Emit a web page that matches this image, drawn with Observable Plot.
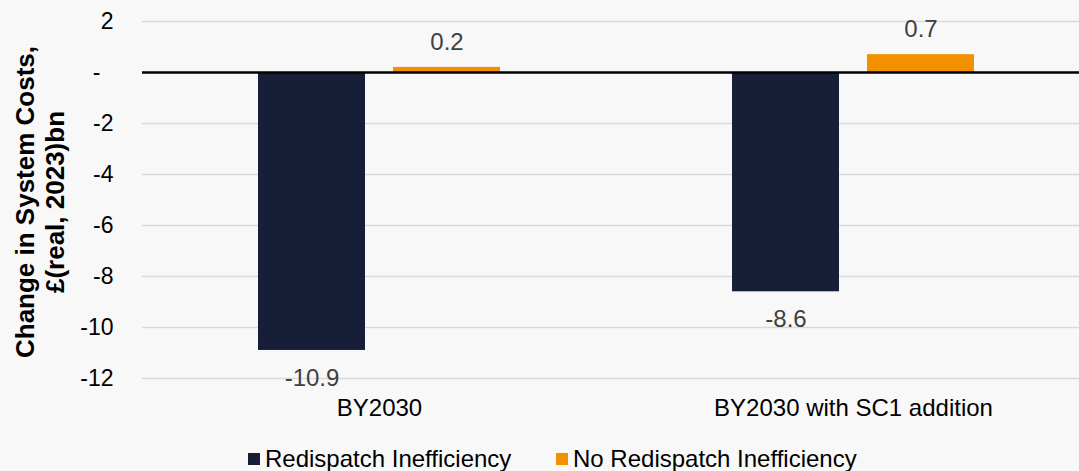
<!DOCTYPE html>
<html>
<head>
<meta charset="utf-8">
<script src="https://cdn.jsdelivr.net/npm/d3@7"></script>
<script src="https://cdn.jsdelivr.net/npm/@observablehq/plot@0.6"></script>
<style>
  html, body { margin: 0; padding: 0; background: #f8f8f8; }
  body { width: 1079px; height: 471px; overflow: hidden; font-family: "Liberation Sans", Arial, sans-serif; }
  #chart { position: relative; width: 1079px; }
  #legend { position: relative; height: 41px; }
  .item { position: absolute; top: 17px; display: flex; align-items: center; font-size: 24px; line-height: 24px; color: #000; }
  .swatch { width: 12px; height: 12px; margin-right: 5px; }
</style>
</head>
<body>
<div id="chart"></div>
<div id="legend"></div>
<script>
// Scenario groups along the x axis
const categories = ["BY2030", "BY2030 with SC1 addition"];
// Series shown side by side within each group
const series = ["Redispatch Inefficiency", "No Redispatch Inefficiency"];
// Change in system costs, £(real, 2023)bn
const redispatchValues = [-10.9, -8.6];
const noRedispatchValues = [0.2, 0.7];
// Y axis ticks
const yTicks = [2, 0, -2, -4, -6, -8, -10, -12];
const seriesColors = ["#161f37", "#f29000"];

const data = [];
categories.forEach((c, i) => {
  data.push({category: c, series: series[0], value: redispatchValues[i]});
  data.push({category: c, series: series[1], value: noRedispatchValues[i]});
});

const font = "'Liberation Sans', Arial, sans-serif";
const fmt = d => d.toFixed(1);

const chart = Plot.plot({
  width: 1079,
  height: 430,
  marginTop: 21,
  marginBottom: 52,
  marginLeft: 142,
  marginRight: 0,
  style: {background: "#f8f8f8", fontFamily: font, overflow: "hidden"},
  fx: {domain: categories, range: [142, 1090], padding: 0, label: null},
  x: {domain: series, paddingInner: 0.2074, paddingOuter: 0.859, axis: null},
  y: {domain: [-12, 2], label: null},
  color: {domain: series, range: seriesColors},
  marks: [
    Plot.gridY(yTicks.filter(t => t !== 0), {stroke: "#d9d9d9", strokeOpacity: 1, strokeWidth: 1.5}),
    Plot.barY(data, {fx: "category", x: "series", y: "value", fill: "series"}),
    Plot.ruleY([0], {stroke: "#000", strokeWidth: 2.5}),
    Plot.text(data.filter(d => d.value > 0), {
      fx: "category", x: "series", y: "value", text: d => fmt(d.value),
      dy: -25, fill: "#404040", fontSize: 24
    }),
    Plot.text(data.filter(d => d.value < 0), {
      fx: "category", x: "series", y: "value", text: d => fmt(d.value),
      dy: 28, fill: "#404040", fontSize: 24
    }),
    Plot.axisY(yTicks.filter(t => t !== 0), {
      tickSize: 0, tickPadding: 29, fontSize: 23, fill: "#000", label: null,
      tickFormat: d => String(d)
    }),
    Plot.axisY([0], {
      tickSize: 0, tickPadding: 42, fontSize: 23, fill: "#000", label: null,
      tickFormat: () => "-"
    }),
    Plot.axisFx({anchor: "bottom", tickSize: 0, tickPadding: 20, fontSize: 24, fill: "#000", label: null}),
    Plot.text(["Change in System Costs,\n£(real, 2023)bn"], {
      fx: () => categories[0],
      frameAnchor: "left", textAnchor: "middle", rotate: -90, dx: -103, dy: 2,
      fontSize: 26, fontWeight: "bold", fill: "#000", lineHeight: 1.15
    })
  ]
});
document.getElementById("chart").append(chart);

// Legend below the plot
const legend = document.getElementById("legend");
const legendX = [248, 556];
series.forEach((s, i) => {
  const item = document.createElement("div");
  item.className = "item";
  item.style.left = legendX[i] + "px";
  const sw = document.createElement("span");
  sw.className = "swatch";
  sw.style.background = seriesColors[i];
  const label = document.createElement("span");
  label.textContent = s;
  item.append(sw, label);
  legend.append(item);
});
</script>
</body>
</html>
